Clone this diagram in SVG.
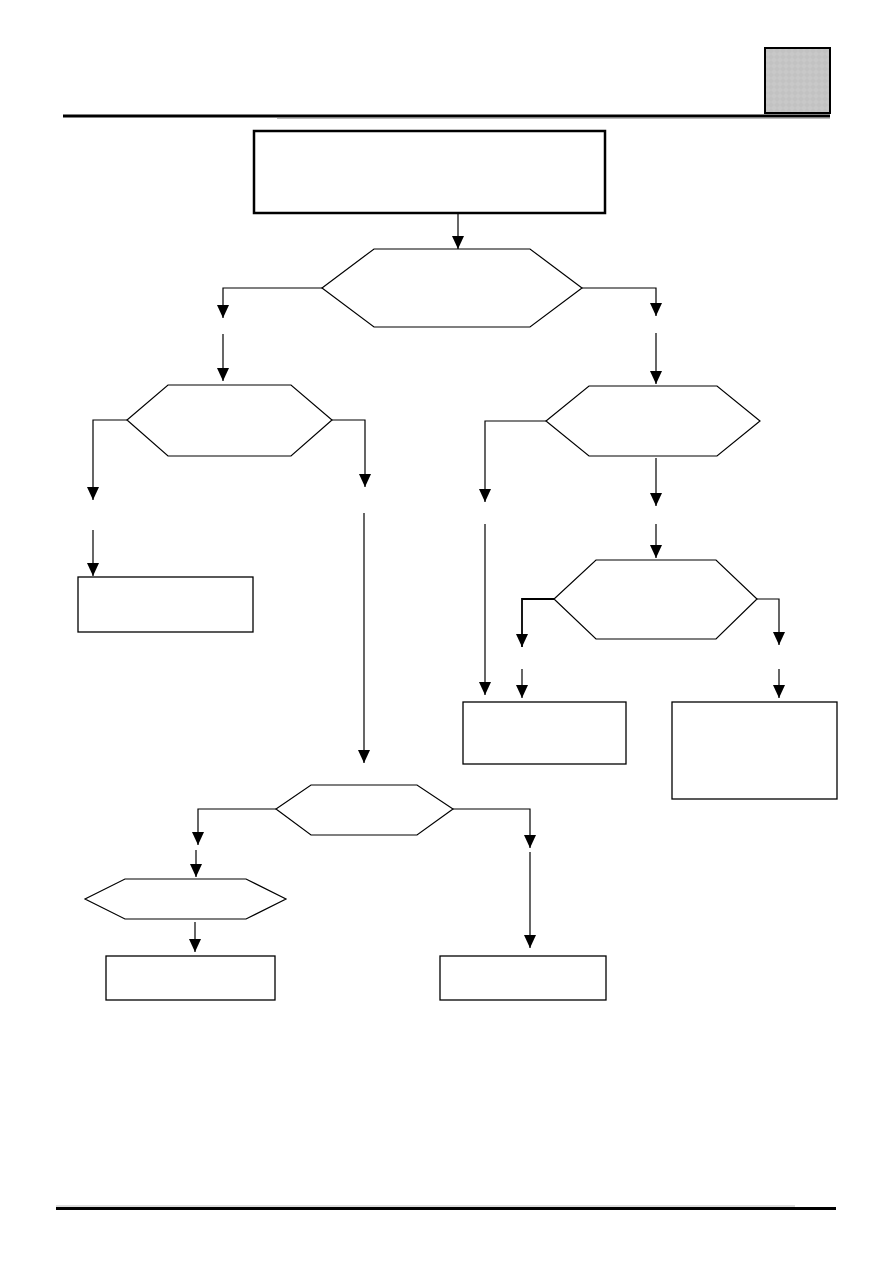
<svg xmlns="http://www.w3.org/2000/svg" width="893" height="1263" viewBox="0 0 893 1263">
<style>
.box{fill:#fff;stroke:#000;stroke-width:1.3}
.hex{fill:#fff;stroke:#000;stroke-width:1.2;stroke-linejoin:miter}
.a{fill:none;stroke:#000;stroke-width:1.2;marker-end:url(#ah)}
</style>
<defs>
<marker id="ah" markerUnits="userSpaceOnUse" markerWidth="13" markerHeight="12" refX="13" refY="6" orient="auto" overflow="visible">
<path d="M0,0 L13,6 L0,12 z" fill="#000"/>
</marker>
<pattern id="grain" width="6" height="6" patternUnits="userSpaceOnUse">
<rect width="6" height="6" fill="#c8c8c8"/>
<path d="M0,3 L3,0 L6,3 L3,6 z" fill="#c2c2c2"/>
</pattern>
</defs>
<g id="page">
<rect id="tab" x="765" y="48" width="65" height="65" fill="url(#grain)" stroke="#000" stroke-width="2"/>
<line x1="63" y1="116" x2="830" y2="116" stroke="#000" stroke-width="3"/>
<line x1="277" y1="118.5" x2="830" y2="118.5" stroke="#bbb" stroke-width="1.2"/>
<line x1="56" y1="1206" x2="795" y2="1206" stroke="#bbb" stroke-width="1"/>
<line x1="56" y1="1208.5" x2="836" y2="1208.5" stroke="#000" stroke-width="3"/>
</g>
<g id="n-start"><rect x="254" y="131" width="351" height="82" fill="#fff" stroke="#000" stroke-width="2.5"/></g>
<g id="n-dec1"><polygon class="hex" points="374,249 530,249 582,288 530,327 374,327 322,288"/></g>
<g id="n-dec2"><polygon class="hex" points="168,385 291,385 332,420 291,456 168,456 127,420"/></g>
<g id="n-dec3"><polygon class="hex" points="589,386 717,386 760,421 717,456 589,456 546,421"/></g>
<g id="n-dec5"><polygon class="hex" points="596,560 716,560 757,599 716,639 596,639 554,599"/></g>
<g id="n-dec4"><polygon class="hex" points="311,785 417,785 453,809 417,835 311,835 276,809"/></g>
<g id="n-dec6"><polygon class="hex" points="125,879 246,879 286,899 246,919 125,919 85,899"/></g>
<g id="n-box1"><rect class="box" x="78" y="577" width="175" height="55"/></g>
<g id="n-box2"><rect class="box" x="463" y="702" width="163" height="62"/></g>
<g id="n-box3"><rect class="box" x="672" y="702" width="165" height="97"/></g>
<g id="n-box4"><rect class="box" x="106" y="956" width="169" height="44"/></g>
<g id="n-box5"><rect class="box" x="440" y="956" width="166" height="44"/></g>
<g id="connectors">
<path class="a" d="M458,213 V249"/>
<path class="a" d="M322,288 H223 V318"/>
<path class="a" d="M223,334 V381"/>
<path class="a" d="M582,288 H656 V316"/>
<path class="a" d="M656,333 V384"/>
<path class="a" d="M127,420 H93 V500"/>
<path class="a" d="M93,530 V576"/>
<path class="a" d="M332,420 H365 V487"/>
<path class="a" d="M364,513 V763"/>
<path class="a" d="M546,421 H485 V502"/>
<path class="a" d="M485,524 V695"/>
<path class="a" d="M656,458 V506"/>
<path class="a" d="M656,524 V558"/>
<path class="a" d="M554,599 H522 V647" style="stroke-width:1.8"/>
<path class="a" d="M522,669 V698"/>
<path class="a" d="M757,599 H779 V645"/>
<path class="a" d="M779,669 V698"/>
<path class="a" d="M276,809 H198 V845"/>
<path class="a" d="M196,850 V877"/>
<path class="a" d="M453,809 H530 V848"/>
<path class="a" d="M530,852 V948"/>
<path class="a" d="M195,922 V952"/>
</g>
</svg>
